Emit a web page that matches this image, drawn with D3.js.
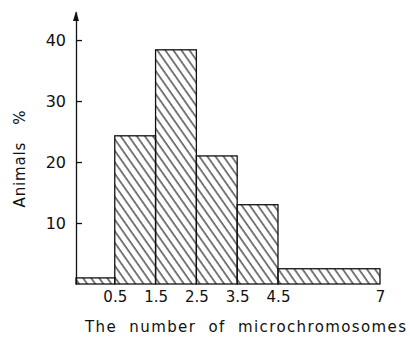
<!DOCTYPE html>
<html>
<head>
<meta charset="utf-8">
<script src="https://cdn.jsdelivr.net/npm/d3@7"></script>
<style>
  html, body { margin: 0; padding: 0; background: #fff; }
  svg { display: block; }
  text { font-family: "DejaVu Sans", sans-serif; fill: #111; }
</style>
</head>
<body>
<svg id="chart" width="410" height="338"></svg>
<script>
// Data
const binStart = [-0.45, 0.5, 1.5, 2.5, 3.5, 4.5];
const binEnd   = [0.5, 1.5, 2.5, 3.5, 4.5, 7];
const percents = [1, 24.3, 38.4, 21, 13, 2.5];
const xTickValues = [0.5, 1.5, 2.5, 3.5, 4.5, 7];
const xTickLabels = ["0.5", "1.5", "2.5", "3.5", "4.5", "7"];
const yTickValues = [10, 20, 30, 40];
const xTitle = "The number of microchromosomes";
const yTitle = "Animals %";

const svg = d3.select("#chart");
const x = d3.scaleLinear().domain([-0.45, 7]).range([76, 380]);
const y = d3.scaleLinear().domain([0, 44.6]).range([284, 12]);

// hatch pattern
const defs = svg.append("defs");
const pat = defs.append("pattern")
  .attr("id", "hatch")
  .attr("patternUnits", "userSpaceOnUse")
  .attr("width", 6.6).attr("height", 10)
  .attr("patternTransform", "rotate(-35)");
pat.append("line")
  .attr("x1", 1).attr("y1", 0).attr("x2", 1).attr("y2", 10)
  .attr("stroke", "#111").attr("stroke-width", 1.1);

const data = binStart.map((s, i) => ({ s, e: binEnd[i], v: percents[i] }));

svg.append("g").selectAll("rect").data(data).join("rect")
  .attr("x", d => x(d.s))
  .attr("y", d => y(d.v))
  .attr("width", d => x(d.e) - x(d.s))
  .attr("height", d => y(0) - y(d.v))
  .attr("fill", "url(#hatch)")
  .attr("stroke", "#111")
  .attr("stroke-width", 1.3);

// y axis
const yAxis = svg.append("g")
  .attr("transform", `translate(${x(-0.45)},0)`)
  .call(d3.axisLeft(y).tickValues(yTickValues).tickSize(-6).tickSizeOuter(0).tickPadding(10));
yAxis.select(".domain").attr("stroke", "#111").attr("stroke-width", 1.3);
yAxis.selectAll(".tick line").attr("stroke", "#111").attr("stroke-width", 1.3);
yAxis.selectAll(".tick text").style("font-size", "16px").attr("fill", "#111");

// arrow head
svg.append("path")
  .attr("d", d3.line()([[x(-0.45) - 3, y(44.6) + 9], [x(-0.45), y(44.6) - 1], [x(-0.45) + 3, y(44.6) + 9]]) + "Z")
  .attr("fill", "#111");

// x axis labels
const xAxis = svg.append("g")
  .attr("transform", `translate(0,${y(0)})`)
  .call(d3.axisBottom(x).tickValues(xTickValues).tickFormat((d, i) => xTickLabels[i]).tickSize(0).tickPadding(7));
xAxis.select(".domain").remove();
xAxis.selectAll(".tick text").style("font-size", "15px").attr("fill", "#111");

// titles
svg.append("text")
  .attr("x", 85).attr("y", 332)
  .attr("textLength", 321).attr("lengthAdjust", "spacing")
  .style("font-size", "15px")
  .style("white-space", "pre")
  .text(xTitle.split(" ").join("  "));

svg.append("text")
  .attr("transform", "translate(25,159) rotate(-90)")
  .attr("text-anchor", "middle")
  .attr("textLength", 97).attr("lengthAdjust", "spacing")
  .style("font-size", "15px")
  .style("white-space", "pre")
  .text(yTitle.replace(" ", "   "));
</script>
</body>
</html>
